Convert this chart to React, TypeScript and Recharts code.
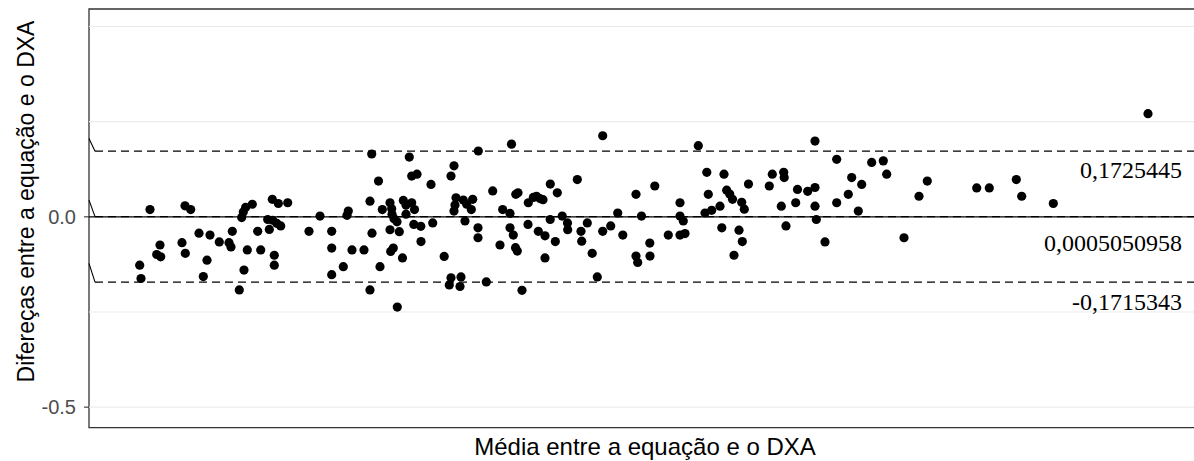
import React from 'react';
import {
  ScatterChart,
  Scatter,
  XAxis,
  YAxis,
  ReferenceLine,
  ReferenceArea,
} from 'recharts';

// Média entre a equação e o DXA (eixo sem marcas, escala relativa)
const media = [
  5.07, 5.2, 6.1, 6.77, 7.1, 7.17, 9.3, 9.63, 9.6, 10.17,
  11.0, 11.43, 11.8, 12.1, 13.03, 14.0, 14.2, 14.33, 15.03, 15.5,
  15.83, 15.27, 15.43, 15.67, 16.33, 16.87, 17.17, 17.87, 18.37, 18.77,
  19.17, 18.03, 18.33, 18.93, 19.87, 18.53, 18.53, 22.0, 23.1, 24.27,
  24.27, 24.27, 25.43, 25.8, 25.93, 26.3, 27.5, 28.1, 28.1, 28.27,
  28.3, 28.95, 29.1, 29.33, 30.1, 30.27, 30.3, 30.5, 30.8, 30.1,
  31.03, 30.17, 30.43, 31.35, 30.83, 31.43, 31.7, 31.7, 32.27, 32.55,
  32.03, 32.27, 32.8, 32.48, 33.18, 33.2, 34.2, 34.37, 35.52, 36.2,
  36.5, 36.7, 36.6, 36.5, 36.2, 36.03, 37.1, 37.2, 37.43, 37.77,
  37.6, 38.37, 38.23, 38.9, 38.9, 38.93, 39.73, 40.37, 41.1, 41.37,
  42.1, 42.1, 42.43, 42.25, 42.68, 42.9, 42.65, 42.83, 43.3, 43.93,
  43.9, 44.43, 44.75, 45.1, 45.4, 44.93, 45.6, 45.6, 46.13, 46.83,
  46.12, 46.63, 47.32, 47.85, 47.87, 48.83, 49.2, 49.27, 49.83, 50.32,
  50.83, 51.37, 51.37, 52.17, 52.87, 53.38, 54.7, 55.25, 54.7, 54.87,
  56.08, 56.1, 56.58, 57.93, 59.1, 59.1, 59.43, 59.1, 59.6, 60.93,
  61.78, 61.93, 61.6, 62.27, 63.1, 63.5, 63.77, 64.07, 64.35, 63.28,
  64.5, 65.0, 65.33, 65.27, 65.53, 65.95, 68.03, 68.33, 69.47, 69.52,
  69.23, 69.7, 70.85, 70.67, 71.87, 72.6, 72.6, 72.73, 72.6, 73.6,
  74.77, 74.77, 75.93, 76.27, 76.93, 77.27, 78.27, 79.43, 79.77, 81.5,
  83.0, 83.83, 88.77, 90.03, 92.73, 93.27, 96.43, 105.9,
];

// Diferenças entre a equação e o DXA
const diferenca = [
  -0.127, -0.162, 0.019, -0.099, -0.074, -0.105, -0.068, -0.096, 0.029, 0.019,
  -0.043, -0.157, -0.114, -0.048, -0.066, -0.068, -0.079, -0.038, -0.192, -0.14,
  -0.087, -0.002, 0.013, 0.025, 0.033, -0.038, -0.087, -0.007, -0.009, -0.017,
  -0.024, -0.033, 0.046, 0.035, 0.037, -0.101, -0.127, -0.038, 0.002, -0.038,
  -0.082, -0.152, -0.131, 0.004, 0.015, -0.087, -0.087, -0.192, 0.041, 0.165,
  -0.043, 0.094, -0.131, 0.019, 0.037, 0.021, 0.007, -0.005, -0.013, -0.034,
  -0.039, -0.091, -0.082, -0.108, -0.237, 0.043, 0.031, 0.007, 0.037, 0.019,
  0.157, 0.107, 0.112, -0.02, -0.025, -0.065, 0.085, -0.016, -0.104, 0.107,
  0.134, 0.05, 0.031, 0.015, -0.16, -0.179, -0.183, -0.158, 0.044, 0.033,
  -0.011, 0.046, 0.019, -0.029, -0.055, 0.173, -0.171, 0.068, -0.074, 0.019,
  0.009, -0.029, -0.048, 0.191, 0.059, 0.063, -0.081, -0.09, -0.193, 0.037,
  -0.02, 0.051, 0.054, 0.048, 0.045, -0.038, -0.05, -0.108, 0.086, 0.063,
  -0.007, -0.065, 0.002, -0.016, -0.034, 0.098, -0.038, -0.064, -0.016, -0.096,
  -0.158, 0.213, -0.038, -0.024, 0.01, -0.048, 0.059, 0.002, -0.103, -0.12,
  -0.069, -0.103, 0.081, -0.048, 0.037, 0.002, -0.011, -0.048, -0.044, 0.187,
  0.117, 0.059, 0.01, 0.017, 0.028, 0.112, 0.07, 0.06, 0.046, -0.029,
  -0.101, -0.035, -0.065, 0.038, 0.02, 0.086, 0.081, 0.112, 0.117, 0.103,
  0.028, -0.024, 0.072, 0.037, 0.067, 0.077, 0.028, -0.007, 0.199, -0.066,
  0.151, 0.037, 0.059, 0.103, 0.015, 0.085, 0.143, 0.147, 0.112, -0.055,
  0.054, 0.094, 0.076, 0.076, 0.098, 0.054, 0.035, 0.271,
];

const limiteSuperior = 0.1725445;
const viesMedio = 0.0005050958;
const limiteInferior = -0.1715343;

const labelSuperior = '0,1725445';
const labelVies = '0,0005050958';
const labelInferior = '-0,1715343';

const yTicks = [-0.5, 0];
const gridValues = [0.5, 0.25, -0.25, -0.5];

const X_MIN = 0;
const X_MAX = 111.2;
const Y_MIN = -0.554;
const Y_MAX = 0.546;
const DASH_START = 0.6;

const data = media.map((m, i) => ({ media: m, diferenca: diferenca[i] }));

const SANS = '"Liberation Sans", Arial, sans-serif';
const SERIF = '"Liberation Serif", "Times New Roman", serif';

function LineLabel(props: any) {
  const { viewBox, text, shift } = props;
  if (!viewBox) return null;
  return (
    <text
      x={1182}
      y={viewBox.y + shift}
      textAnchor="end"
      fontFamily={SERIF}
      fontSize={24}
      fill="#000000"
    >
      {text}
    </text>
  );
}

function YTick(props: any) {
  const { x, y, payload } = props;
  return (
    <text x={x} y={y + 7} textAnchor="end" fontFamily={SANS} fontSize={20} fill="#4D4D4D">
      {Number(payload.value).toFixed(1)}
    </text>
  );
}

const dot = (props: any) => <circle cx={props.cx} cy={props.cy} r={4.6} fill="#000000" />;

export default function App() {
  return (
    <div style={{ position: 'absolute', left: 0, top: 0, width: 1194, height: 461, overflow: 'hidden', background: '#fff' }}>
      <ScatterChart width={1202} height={461} margin={{ top: 9, right: 1, bottom: 0, left: 0 }}>
        <XAxis
          type="number"
          dataKey="media"
          domain={[X_MIN, X_MAX]}
          tick={false}
          tickLine={false}
          axisLine={false}
          height={33.3}
          label={(p: any) => (
            <text
              x={p.viewBox.x + p.viewBox.width / 2}
              y={455}
              textAnchor="middle"
              fontFamily={SANS}
              fontSize={24}
              fill="#000000"
            >
              Média entre a equação e o DXA
            </text>
          )}
        />
        <YAxis
          type="number"
          dataKey="diferenca"
          domain={[Y_MIN, Y_MAX]}
          ticks={yTicks}
          width={89}
          tickSize={5}
          tickMargin={8}
          tickLine={{ stroke: '#333333', strokeWidth: 1.1 }}
          axisLine={false}
          tick={<YTick />}
          allowDataOverflow
          label={() => (
            <text
              x={34}
              y={201.5}
              transform="rotate(-90 34 201.5)"
              textAnchor="middle"
              fontFamily={SANS}
              fontSize={23}
              fill="#000000"
            >
              Difereças entre a equação e o DXA
            </text>
          )}
        />
        {gridValues.map((v) => (
          <ReferenceLine key={v} y={v} stroke="#EBEBEB" strokeWidth={1.1} />
        ))}
        <ReferenceLine y={0} stroke="#000000" strokeWidth={1.1} />
        <ReferenceLine
          segment={[{ x: DASH_START, y: limiteSuperior }, { x: X_MAX, y: limiteSuperior }]}
          stroke="#000000"
          strokeWidth={1.1}
          strokeDasharray="8 5"
          label={<LineLabel text={labelSuperior} shift={27} />}
        />
        <ReferenceLine
          segment={[{ x: DASH_START, y: viesMedio }, { x: X_MAX, y: viesMedio }]}
          stroke="#000000"
          strokeWidth={1.1}
          strokeDasharray="8 5"
          label={<LineLabel text={labelVies} shift={34} />}
        />
        <ReferenceLine
          segment={[{ x: DASH_START, y: limiteInferior }, { x: X_MAX, y: limiteInferior }]}
          stroke="#000000"
          strokeWidth={1.1}
          strokeDasharray="8 5"
          label={<LineLabel text={labelInferior} shift={27.5} />}
        />
        <ReferenceLine
          segment={[{ x: X_MIN, y: 0.2058 }, { x: DASH_START, y: limiteSuperior }]}
          stroke="#000000"
          strokeWidth={1.1}
        />
        <ReferenceLine
          segment={[{ x: X_MIN, y: 0.0438 }, { x: DASH_START, y: viesMedio }]}
          stroke="#000000"
          strokeWidth={1.1}
        />
        <ReferenceLine
          segment={[{ x: X_MIN, y: -0.1223 }, { x: DASH_START, y: limiteInferior }]}
          stroke="#000000"
          strokeWidth={1.1}
        />
        <Scatter data={data} shape={dot} isAnimationActive={false} />
        <ReferenceArea
          x1={X_MIN}
          x2={X_MAX}
          y1={Y_MIN}
          y2={Y_MAX}
          fill="none"
          stroke="#333333"
          strokeWidth={1.3}
        />
      </ScatterChart>
    </div>
  );
}
